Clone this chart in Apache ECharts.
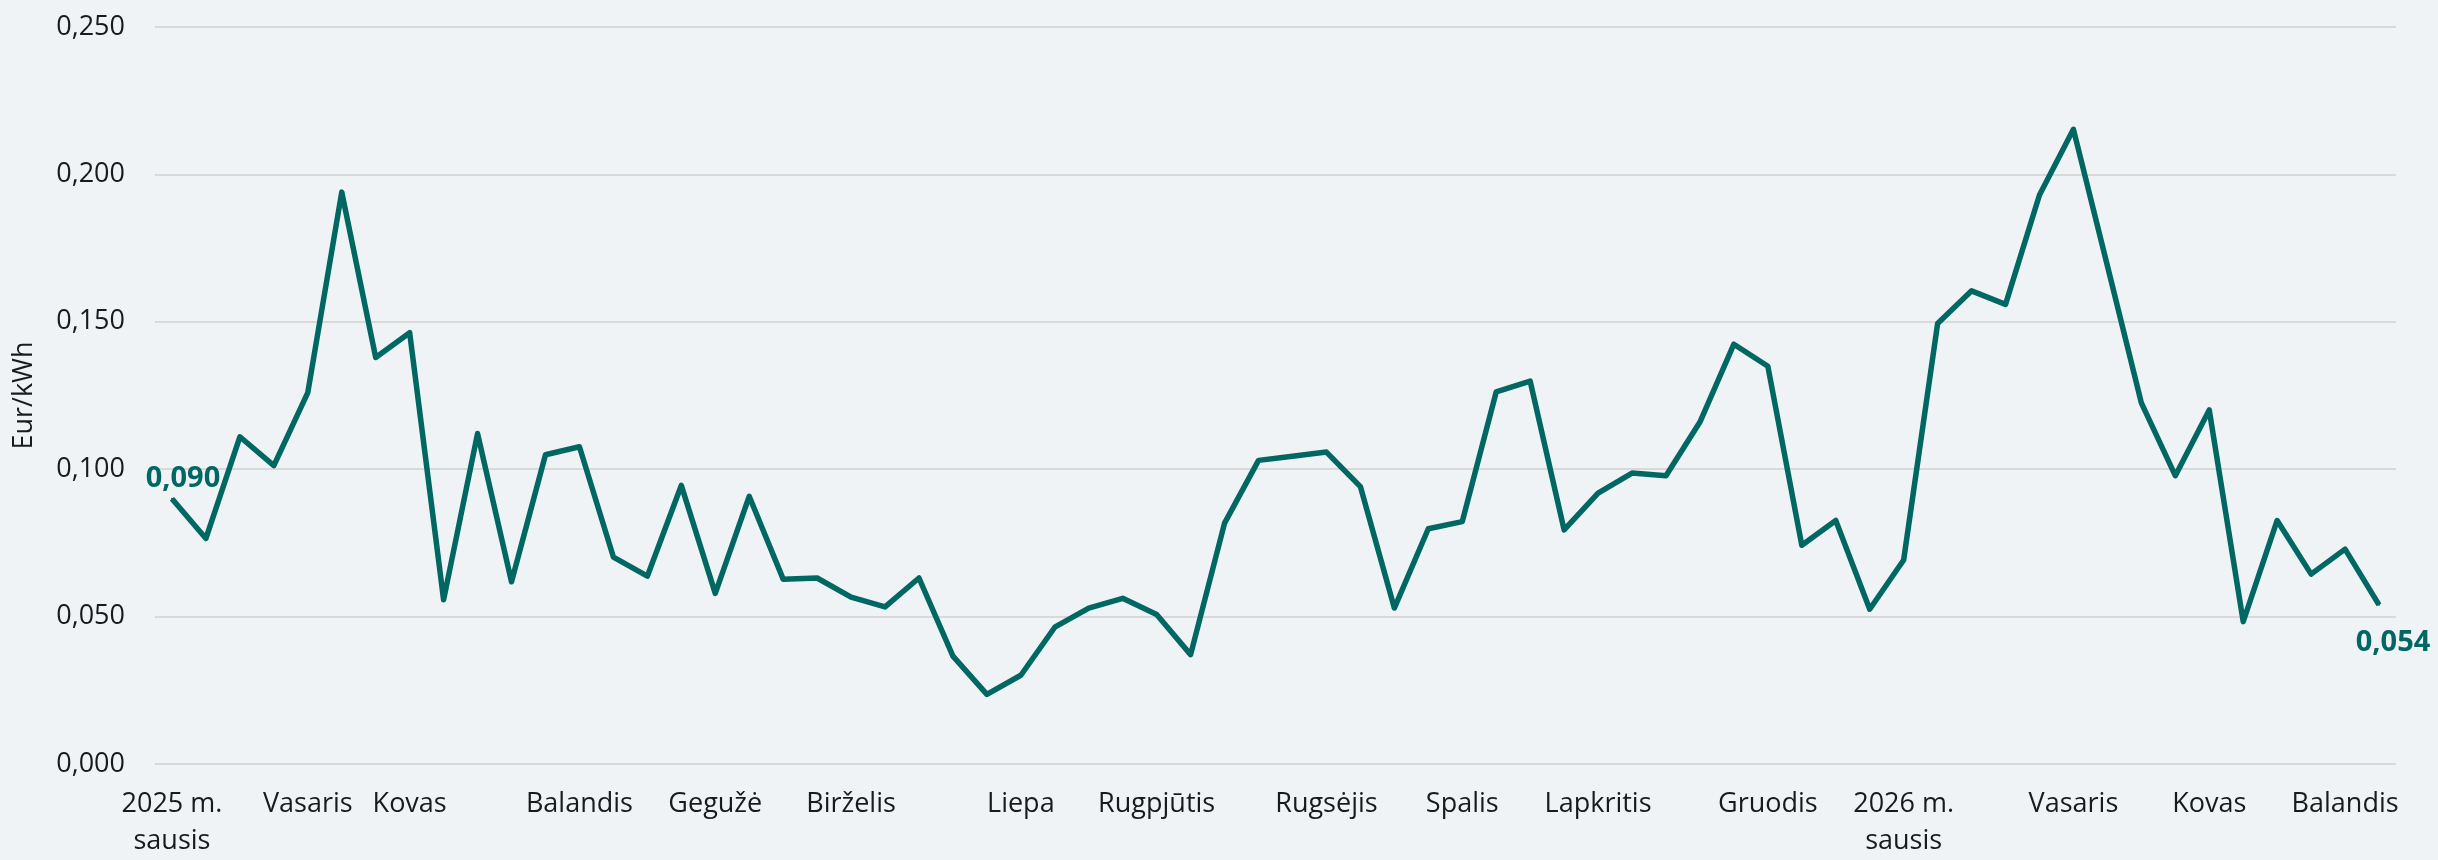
<!DOCTYPE html>
<html>
<head>
<meta charset="utf-8">
<script src="https://cdn.jsdelivr.net/npm/echarts@6/dist/echarts.min.js"></script>
<style>
html,body{margin:0;padding:0;background:#eff3f6;}
#chart{width:2438px;height:860px;}
</style>
</head>
<body>
<div id="chart"></div>
<script>
// Weekly price, Eur/kWh
const monthLabels = {
  0: '2025 m.\nsausis', 4: 'Vasaris', 7: 'Kovas', 12: 'Balandis', 16: 'Gegužė',
  20: 'Birželis', 25: 'Liepa', 29: 'Rugpjūtis', 34: 'Rugsėjis', 38: 'Spalis',
  42: 'Lapkritis', 47: 'Gruodis', 51: '2026 m.\nsausis', 56: 'Vasaris', 60: 'Kovas', 64: 'Balandis'
};
const values = [
  0.090, 0.0765, 0.111, 0.1012, 0.126, 0.194, 0.1379, 0.1463, 0.0557, 0.1121,
  0.0618, 0.1049, 0.1076, 0.0702, 0.0637, 0.0945, 0.0579, 0.0908, 0.0627, 0.0631,
  0.0566, 0.0533, 0.0631, 0.0366, 0.0236, 0.0301, 0.0464, 0.0529, 0.0562, 0.0507,
  0.0371, 0.0817, 0.1030, 0.1044, 0.1058, 0.0941, 0.0529, 0.0798, 0.0822, 0.1262,
  0.1299, 0.0794, 0.0919, 0.0987, 0.0978, 0.1160, 0.1424, 0.1349, 0.0742, 0.0826,
  0.0525, 0.0692, 0.1494, 0.1605, 0.1559, 0.1930, 0.2153, 0.169, 0.1225, 0.0978,
  0.1201, 0.0483, 0.0826, 0.0644, 0.0729, 0.054
];
const categories = values.map((v, i) => monthLabels[i] || '');
const yTicks = [0, 0.05, 0.10, 0.15, 0.20, 0.25];

const lineColor = '#006763';
const fmt = v => v.toFixed(3).replace('.', ',');

const seriesData = values.map((v, i) => {
  if (i === 0) {
    return { value: v, label: { show: true, position: 'top', offset: [11, 1] } };
  }
  if (i === values.length - 1) {
    return { value: v, label: { show: true, position: 'bottom', offset: [14, 17] } };
  }
  return v;
});

const chart = echarts.init(document.getElementById('chart'), null, { renderer: 'canvas' });
chart.setOption({
  backgroundColor: '#eff3f6',
  animation: false,
  textStyle: { fontFamily: 'Open Sans' },
  grid: { left: 155, right: 42, top: 27, bottom: 95, containLabel: false },
  xAxis: {
    type: 'category',
    data: categories,
    boundaryGap: true,
    axisLine: { show: false },
    axisTick: { show: false },
    axisLabel: {
      interval: 0,
      color: '#1a1a1a',
      fontSize: 27,
      lineHeight: 37,
      margin: 22,
      fontFamily: 'Open Sans'
    }
  },
  yAxis: {
    type: 'value',
    min: yTicks[0],
    max: yTicks[yTicks.length - 1],
    interval: 0.05,
    name: 'Eur/kWh',
    nameLocation: 'middle',
    nameGap: 117,
    nameRotate: 90,
    nameTextStyle: { color: '#1a1a1a', fontSize: 27, fontFamily: 'Open Sans' },
    axisLine: { show: false },
    axisTick: { show: false },
    splitLine: { lineStyle: { color: '#d9d9d9', width: 2 } },
    axisLabel: {
      color: '#1a1a1a',
      fontSize: 27,
      margin: 30,
      fontFamily: 'Open Sans',
      formatter: v => fmt(v)
    }
  },
  series: [{
    type: 'line',
    data: seriesData,
    symbol: 'circle',
    symbolSize: 2,
    showSymbol: true,
    itemStyle: { color: lineColor },
    lineStyle: { color: lineColor, width: 5.5, join: 'round' },
    label: {
      show: false,
      color: lineColor,
      fontSize: 29,
      fontWeight: 'bold',
      fontFamily: 'Open Sans',
      formatter: p => fmt(p.value)
    }
  }]
});
</script>
</body>
</html>
